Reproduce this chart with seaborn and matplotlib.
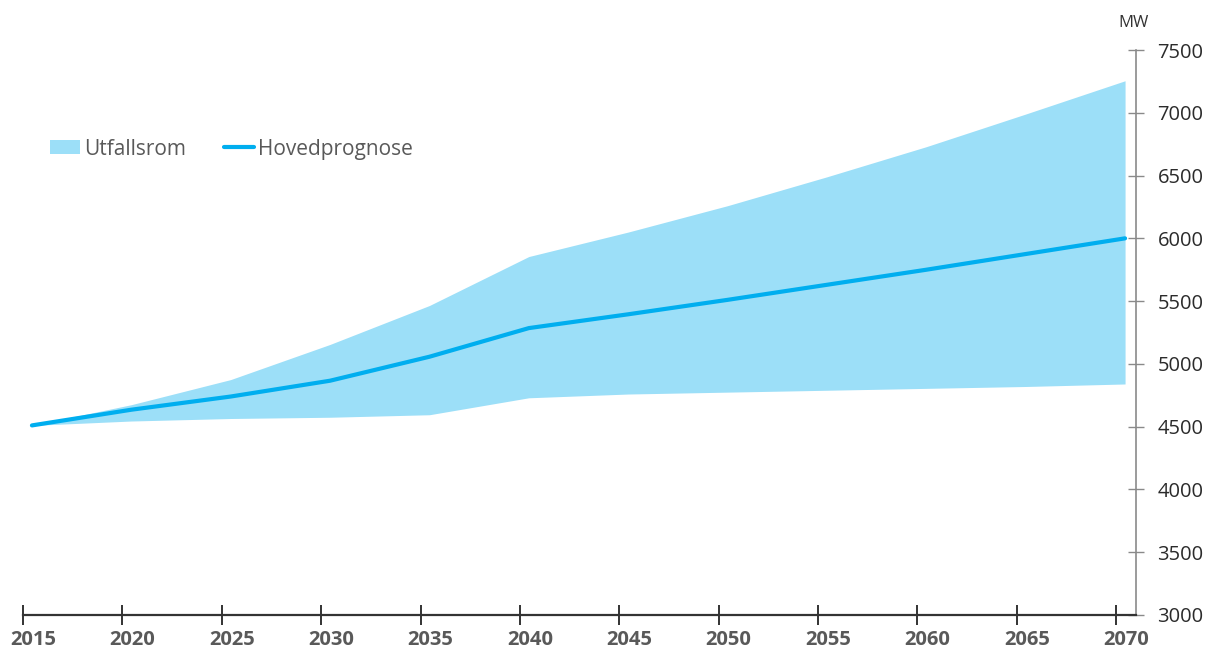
import matplotlib
matplotlib.use("Agg")
import matplotlib.pyplot as plt
import matplotlib.transforms as mtransforms
import seaborn as sns
import numpy as np
import pandas as pd
from matplotlib.patches import Patch
from matplotlib.lines import Line2D

years = [2015, 2020, 2025, 2030, 2035, 2040, 2045, 2050, 2055, 2060, 2065, 2070]
hoved = [4510, 4635, 4740, 4866, 5057, 5285, 5395, 5510, 5630, 5750, 5875, 6000]
upper = [4510, 4675, 4875, 5155, 5465, 5855, 6050, 6260, 6490, 6730, 6990, 7255]
lower = [4510, 4545, 4565, 4575, 4595, 4730, 4760, 4775, 4790, 4805, 4820, 4840]
xticks = list(range(2015, 2071, 5))
yticks = list(range(3000, 7501, 500))

FILL = "#9CDFF8"
LINE = "#00AEEF"

sns.set_theme(style="white")
plt.rcParams["font.family"] = ["Open Sans", "DejaVu Sans"]

df = pd.DataFrame({"year": years, "hoved": hoved, "upper": upper, "lower": lower})
df["x"] = df["year"] + 0.45

fig = plt.figure(figsize=(12.12, 6.57), dpi=100)
ax = fig.add_axes([23 / 1212, 1 - 615 / 657, 1113 / 1212, 565 / 657])

ax.fill_between(df["x"], df["lower"], df["upper"], color=FILL, lw=0)
sns.lineplot(data=df, x="x", y="hoved", ax=ax, color=LINE, lw=3.0,
             solid_capstyle="round", legend=False)

ax.set_xlim(2015, 2071)
ax.set_ylim(3000, 7500)
ax.set_xticks(xticks)
ax.set_yticks(yticks)
ax.set_xlabel("")
ax.set_ylabel("")

for s in ["top", "left"]:
    ax.spines[s].set_visible(False)
ax.spines["bottom"].set_color("#333333")
ax.spines["bottom"].set_linewidth(1.6)
ax.spines["right"].set_color("#8a8a8a")
ax.spines["right"].set_linewidth(1.2)

ax.yaxis.tick_right()
ax.tick_params(axis="x", direction="inout", length=14, width=1.4, color="#333333",
               labelsize=14.5, labelcolor="#595959", pad=4, bottom=True, top=False)
shift = mtransforms.ScaledTranslation(10 / 100, 0, fig.dpi_scale_trans)
for lbl in ax.get_xticklabels():
    lbl.set_fontweight("bold")
    lbl.set_transform(lbl.get_transform() + shift)
ax.tick_params(axis="y", direction="inout", length=11, width=1.0, color="#8a8a8a",
               labelsize=14.5, labelcolor="#2b2b2b", pad=10, right=True, left=False)

fig.text(1134 / 1212, 1 - 23 / 657, "MW", ha="center", va="center",
         fontsize=12, color="#333333")

handles = [Patch(facecolor=FILL, edgecolor="none"),
           Line2D([0], [0], color=LINE, lw=3.0)]
leg = ax.legend(handles, ["Utfallsrom", "Hovedprognose"], loc="center left",
                bbox_to_anchor=(31 / 1212, 1 - 149 / 657), bbox_transform=fig.transFigure,
                ncol=2, frameon=False, fontsize=15, handlelength=1.45,
                handleheight=0.65, handletextpad=0.2, columnspacing=1.8)
for t in leg.get_texts():
    t.set_color("#595959")

fig.savefig("out.png", dpi=100)
